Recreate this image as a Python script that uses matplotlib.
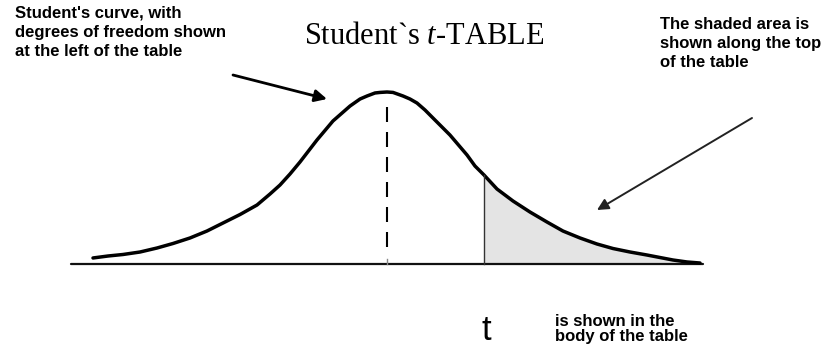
import matplotlib
matplotlib.use("Agg")
import matplotlib.pyplot as plt
import numpy as np

plt.rcParams["mathtext.fontset"] = "custom"
plt.rcParams["mathtext.rm"] = "Liberation Serif"
plt.rcParams["mathtext.it"] = "Liberation Serif:italic"

# ---- data (t units, relative density) ----
t_vals = [-3.031, -2.876, -2.722, -2.546, -2.371, -2.206, -2.031, -1.856, -1.691,
          -1.515, -1.340, -1.206, -1.103, -1.000, -0.897, -0.722, -0.557, -0.381,
          -0.278, -0.206, -0.124, -0.072, 0.0, 0.062, 0.165, 0.237, 0.309, 0.392,
          0.474, 0.649, 0.825, 0.907, 1.0, 1.134, 1.299, 1.474, 1.649, 1.814,
          1.990, 2.165, 2.330, 2.505, 2.680, 2.814, 2.948, 3.093, 3.227]
density = [0.0140, 0.0186, 0.0221, 0.0279, 0.0372, 0.0477, 0.0605, 0.0767, 0.0953,
           0.1151, 0.1372, 0.1628, 0.1837, 0.2093, 0.2372, 0.2884, 0.3326, 0.3674,
           0.3837, 0.3907, 0.3977, 0.3990, 0.4000, 0.3990, 0.3907, 0.3837, 0.3744,
           0.3581, 0.3395, 0.3000, 0.2535, 0.2279, 0.2070, 0.1744, 0.1465, 0.1209,
           0.0977, 0.0767, 0.0605, 0.0465, 0.0360, 0.0279, 0.0209, 0.0151, 0.0093,
           0.0047, 0.0023]
t_crit = 1.0
axis_range = [-3.26, 3.26]
mean_line = [0.04, 0.374]

title = "Student`s $\\mathit{t}$-TABLE"
note_left = "Student's curve, with\ndegrees of freedom shown\nat the left of the table"
note_right = "The shaded area is\nshown along the top\nof the table"
note_bottom = "is shown in the\nbody of the table"
t_label = "t"

W, H = 826, 353
fig = plt.figure(figsize=(W / 100, H / 100), dpi=100)
ax = fig.add_axes([0, 0, 1, 1])
ax.set_xlim(-387 / 97, (W - 387) / 97)
ax.set_ylim(-(H - 264) * 0.4 / 172, 264 * 0.4 / 172)
ax.axis("off")

t = np.array(t_vals)
d = np.array(density)

# shaded tail
mask = t >= t_crit
ax.fill_between(t[mask], 0, d[mask], color="#e4e4e4", lw=0, zorder=1)
# baseline
ax.plot(axis_range, [0, 0], color="#111111", lw=1.6, zorder=2, solid_capstyle="round")
# curve
ax.plot(t, d, color="black", lw=2.5, zorder=3, solid_capstyle="round",
        solid_joinstyle="round")
# mean dashed line
ax.plot([0, 0], mean_line, color="black", lw=1.5, ls=(0, (7.2, 4.8)), zorder=3)
ax.plot([0, 0], [0, 0.012], color="#888888", lw=1, zorder=2)
# critical t line
ax.plot([t_crit, t_crit], [0, d[t_vals.index(t_crit)]], color="#333333", lw=1.0, zorder=3)

def px(x, y):
    return (x / W, 1 - y / H)

fig.text(*px(424, 36), title, ha="center", va="center",
         family="Liberation Serif", fontsize=22)
fig.text(*px(15, 6), note_left, ha="left", va="top", family="Liberation Sans",
         fontsize=12, fontweight="bold", linespacing=1.33)
fig.text(*px(660, 17), note_right, ha="left", va="top", family="Liberation Sans",
         fontsize=12, fontweight="bold", linespacing=1.35)
fig.text(*px(555, 314), note_bottom, ha="left", va="top", family="Liberation Sans",
         fontsize=12, fontweight="bold", linespacing=1.0)
fig.text(*px(486, 330), t_label, ha="center", va="center", family="Liberation Sans",
         fontsize=25)

ap = dict(arrowstyle="-|>", color="black", lw=2.0, mutation_scale=18,
          shrinkA=0, shrinkB=0)
ax.annotate("", xy=(327, H - 99), xytext=(233, H - 75),
            xycoords="figure pixels", textcoords="figure pixels", arrowprops=ap)
ap2 = dict(ap, color="#222222", lw=1.4, mutation_scale=17)
ax.annotate("", xy=(597, H - 210), xytext=(752, H - 118),
            xycoords="figure pixels", textcoords="figure pixels", arrowprops=ap2)

fig.savefig("out.png", dpi=100)
